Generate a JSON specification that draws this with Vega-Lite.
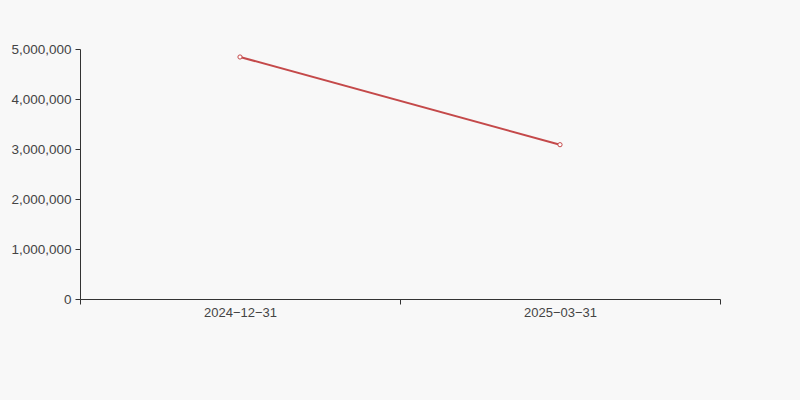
{
  "$schema": "https://vega.github.io/schema/vega-lite/v6.json",
  "width": 640,
  "height": 250,
  "autosize": {"type": "none"},
  "padding": {"left": 80, "top": 49, "right": 80, "bottom": 101},
  "background": "#f8f8f8",
  "config": {
    "view": {"stroke": null},
    "font": "Liberation Sans",
    "axis": {
      "grid": false,
      "domainColor": "#333333",
      "tickColor": "#333333",
      "labelColor": "#444444",
      "labelFontSize": 13,
      "labelFont": "Liberation Sans",
      "title": null,
      "tickSize": 5
    }
  },
  "data": {
    "values": [
      {"date": "2024-12-31", "value": 4840000},
      {"date": "2025-03-31", "value": 3086000}
    ]
  },
  "mark": {
    "type": "line",
    "color": "#c4494a",
    "strokeWidth": 2,
    "point": {"filled": true, "fill": "#ffffff", "stroke": "#c4494a", "strokeWidth": 1, "size": 18}
  },
  "encoding": {
    "x": {
      "field": "date",
      "type": "ordinal",
      "scale": {"type": "band", "paddingInner": 0, "paddingOuter": 0},
      "bandPosition": 0.5,
      "axis": {"labelAngle": 0, "tickBand": "extent", "labelPadding": 2, "labelExpr": "replace(datum.label, /-/g, '\u2212')"}
    },
    "y": {
      "field": "value",
      "type": "quantitative",
      "scale": {"domain": [0, 5000000]},
      "axis": {"values": [0, 1000000, 2000000, 3000000, 4000000, 5000000], "format": ",d", "labelPadding": 4, "labelFontSize": 13.5}
    }
  }
}
